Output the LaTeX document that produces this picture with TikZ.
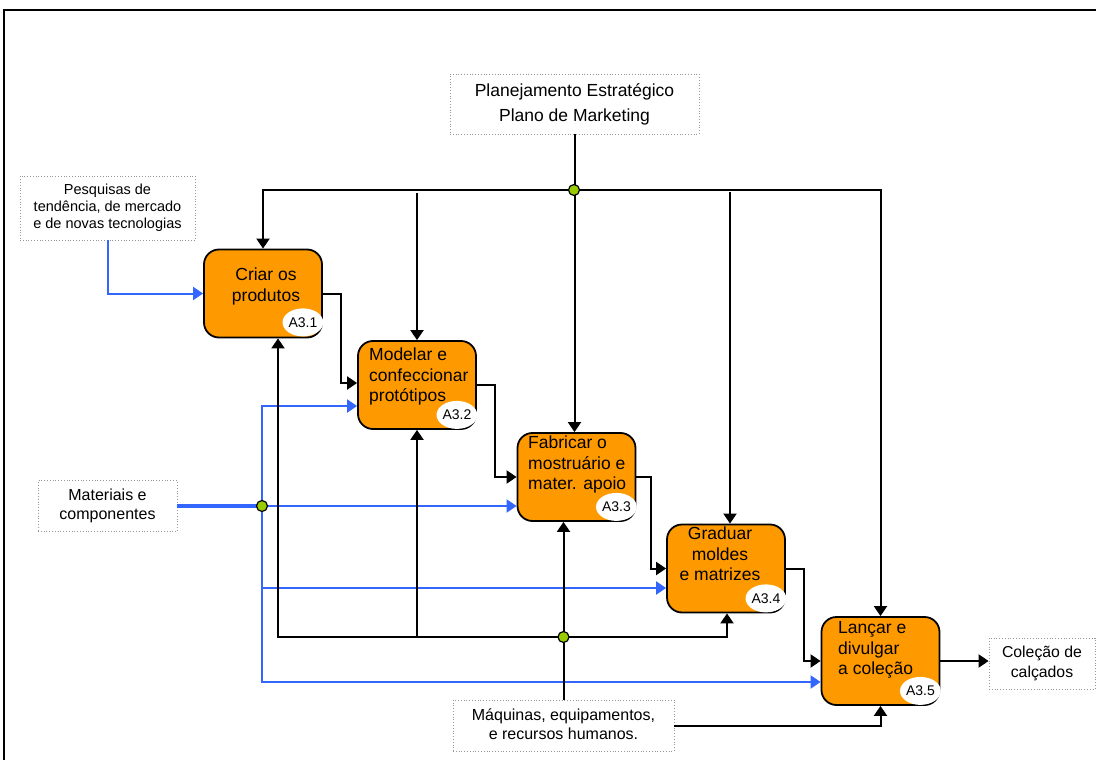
\documentclass[tikz,border=0pt]{standalone}
\usepackage{fontspec}
\setmainfont{Liberation Sans}
\usetikzlibrary{arrows.meta,calc,shapes.geometric}

% strut giving every line the same height/depth, so text blocks centre on the capitals
\newcommand\ls{\rule[-0.2em]{0pt}{0.92em}}

\definecolor{actorange}{RGB}{255,153,0}
\definecolor{inblue}{RGB}{51,102,255}
\definecolor{jgreen}{RGB}{153,204,0}
\definecolor{dotgray}{RGB}{150,150,150}

\tikzset{
  actbox/.style={draw=black, line width=1.8pt, fill=actorange, rounded corners=15pt,
    minimum width=118pt, minimum height=88pt, inner sep=0pt},
  acttext/.style={inner sep=0pt, font=\fontsize{17.5}{20.5}\selectfont},
  tag/.style={ellipse, fill=white, minimum width=40pt, minimum height=28pt, inner sep=0pt,
    font=\fontsize{14}{16}\selectfont},
  extbox/.style={draw=dotgray, dotted, line width=0.8pt, inner sep=0pt, align=center},
  ctl/.style={draw=black, line width=2pt, -{Triangle[length=10pt,width=13pt]}},
  inp/.style={draw=inblue, line width=2pt, -{Triangle[length=10pt,width=13pt]}},
  inpline/.style={draw=inblue, line width=2pt},
  junc/.style={circle, draw=black, line width=1.2pt, fill=jgreen, minimum size=11pt, inner sep=0pt},
}

\begin{document}
\begin{tikzpicture}[x=1pt,y=-1pt]
\useasboundingbox (0,0) rectangle (1096,760);

% frame
\draw[line width=1.8pt] (4,760) -- (4,10) -- (1096,10);

% external boxes
\node[extbox, minimum width=249pt, minimum height=60pt, font=\fontsize{17.5}{25}\selectfont]
  (plan) at (574.5,104) {\ls Planejamento Estratégico\\\ls Plano de Marketing};
\node[extbox, minimum width=175pt, minimum height=64pt, font=\fontsize{14.5}{17}\selectfont]
  (pesq) at (107.5,208) {\ls Pesquisas de\\\ls tendência, de mercado\\\ls e de novas tecnologias};
\node[extbox, minimum width=139pt, minimum height=51pt, font=\fontsize{16}{19.5}\selectfont]
  (mat) at (107.5,506) {\ls Materiais e\\\ls componentes};
\node[extbox, minimum width=221pt, minimum height=51pt, font=\fontsize{16}{19}\selectfont]
  (maq) at (563.5,725.5) {\ls Máquinas, equipamentos,\\\ls e recursos humanos.};
\node[extbox, minimum width=106pt, minimum height=51pt, font=\fontsize{15.8}{20}\selectfont]
  (col) at (1042,663.5) {\ls Coleção de\\\ls calçados};

% activity boxes
\node[actbox] (b1) at (263,293.5) {};
\node[actbox] (b2) at (417,385) {};
\node[actbox] (b3) at (576.5,477) {};
\node[actbox] (b4) at (726,568.5) {};
\node[actbox] (b5) at (880.5,661) {};

% activity names
\node[acttext, anchor=north, align=center] (t1) at (266,268) {\ls Criar os\\\ls produtos};
\node[acttext, anchor=north west, align=left] (t2) at (369,348) {\ls Modelar e\\\ls confeccionar\\\ls protótipos};
\node[acttext, anchor=north west, align=left] (t3) at (528,436) {\ls Fabricar o\\\ls mostruário e\\\ls mater. apoio};
\node[acttext, anchor=north, align=center] (t4) at (720,527) {\ls Graduar\\\ls moldes\\\ls e matrizes};
\node[acttext, anchor=north west, align=left] (t5) at (838,621) {\ls Lançar e\\\ls divulgar\\\ls a coleção};

% activity numbers
\node[tag] (n1) at ($(b1.south east)+(-20,-16)$) {A3.1};
\node[tag] (n2) at ($(b2.south east)+(-20,-15)$) {A3.2};
\node[tag] (n3) at ($(b3.south east)+(-20,-15)$) {A3.3};
\node[tag] (n4) at ($(b4.south east)+(-20,-15)$) {A3.4};
\node[tag] (n5) at ($(b5.south east)+(-20,-15)$) {A3.5};

% junction points
\coordinate (jc) at (574,190);
\coordinate (jm) at (262,506);
\coordinate (jk) at (563.5,637);

% inputs (blue)
\draw[inp] (pesq.south) |- (b1.west);
\draw[inpline, line width=3.5pt] (mat.east) -- (jm);
\draw[inp] (jm) -- (jm -| b3.west);
\draw[inp] (jm) |- ($(b2.west)+(0,21)$);
\draw[inp] (jm) |- ($(b4.west)+(0,19.5)$);
\draw[inp] (jm) |- ($(b5.west)+(0,21)$);

% controls (black, from above)
\draw[ctl] (plan.south) -- (plan.south |- b3.north);
\draw[ctl] (jc) -| (b1.north);
\draw[ctl] (jc) -| (b5.north);
\draw[ctl] ($(b2.north |- jc)+(0,3)$) -- (b2.north);
\draw[ctl] ($(b4.north |- jc)+(4,2)$) -- ($(b4.north)+(4,0)$);

% outputs
\draw[ctl] (b1.east) -- ++(18,0) |- ($(b2.west)+(0,-2)$);
\draw[ctl] (b2.east) -- ++(18,0) |- (b3.west);
\draw[ctl] (b3.east) -- ++(15,0) |- (b4.west);
\draw[ctl] (b4.east) -- ++(18,0) |- (b5.west);
\draw[ctl] (b5.east) -- (b5.east -| col.west);

% mechanisms (black, from below)
\draw[ctl] (maq.north) -- (maq.north |- b3.south);
\draw[ctl] (jk) -| ($(b1.south)+(15,0)$);
\draw[ctl] (jk) -| ($(b4.south)+(1,0)$);
\draw[ctl] (b2.south |- jk) -- (b2.south);
\draw[ctl] (maq.east) -| (b5.south);

% junction dots
\node[junc] (dc) at (jc) {};
\node[junc] (dm) at (jm) {};
\node[junc] (dk) at (jk) {};
\end{tikzpicture}
\end{document}
